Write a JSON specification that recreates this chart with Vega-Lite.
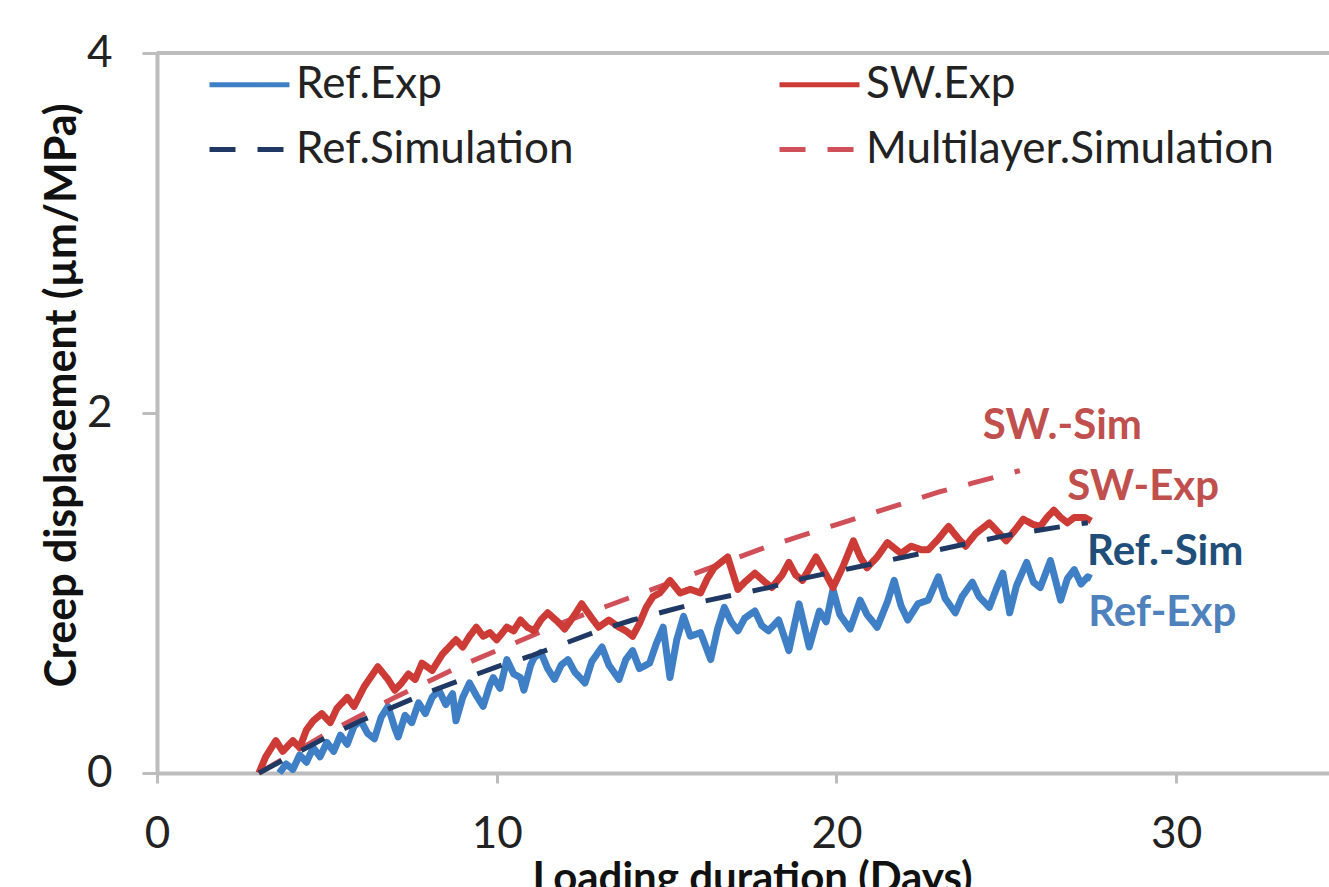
{
  "$schema": "https://vega.github.io/schema/vega-lite/v6.json",
  "width": 1172,
  "height": 720,
  "autosize": {"type": "none"},
  "padding": {"left": 157, "top": 53, "right": 0, "bottom": 114},
  "background": "white",
  "config": {
    "view": {"stroke": null},
    "font": "Lato",
    "axis": {"grid": false, "domainColor": "#bdbdbd", "domainWidth": 4, "tickColor": "#bdbdbd", "tickWidth": 3, "labelFont": "Lato", "labelColor": "#222222", "labelFontSize": 44, "labelFlush": false, "titleFont": "Lato", "titleColor": "#111111", "titleFontWeight": "bold"}
  },
  "datasets": {
    "lines": [
      {"s":"Ref.Exp","x":3.6,"y":0.0},{"s":"Ref.Exp","x":3.8,"y":0.05},{"s":"Ref.Exp","x":4.0,"y":0.02},{"s":"Ref.Exp","x":4.2,"y":0.10},{"s":"Ref.Exp","x":4.4,"y":0.06},{"s":"Ref.Exp","x":4.6,"y":0.14},{"s":"Ref.Exp","x":4.8,"y":0.09},{"s":"Ref.Exp","x":5.0,"y":0.17},{"s":"Ref.Exp","x":5.2,"y":0.12},{"s":"Ref.Exp","x":5.4,"y":0.21},{"s":"Ref.Exp","x":5.6,"y":0.16},{"s":"Ref.Exp","x":5.8,"y":0.26},{"s":"Ref.Exp","x":6.0,"y":0.29},{"s":"Ref.Exp","x":6.2,"y":0.22},{"s":"Ref.Exp","x":6.4,"y":0.19},{"s":"Ref.Exp","x":6.6,"y":0.31},{"s":"Ref.Exp","x":6.8,"y":0.37},{"s":"Ref.Exp","x":7.0,"y":0.25},{"s":"Ref.Exp","x":7.1,"y":0.20},{"s":"Ref.Exp","x":7.3,"y":0.32},{"s":"Ref.Exp","x":7.5,"y":0.28},{"s":"Ref.Exp","x":7.7,"y":0.39},{"s":"Ref.Exp","x":7.9,"y":0.33},{"s":"Ref.Exp","x":8.1,"y":0.42},{"s":"Ref.Exp","x":8.3,"y":0.46},{"s":"Ref.Exp","x":8.5,"y":0.38},{"s":"Ref.Exp","x":8.7,"y":0.44},{"s":"Ref.Exp","x":8.8,"y":0.29},{"s":"Ref.Exp","x":9.0,"y":0.42},{"s":"Ref.Exp","x":9.2,"y":0.50},{"s":"Ref.Exp","x":9.4,"y":0.43},{"s":"Ref.Exp","x":9.6,"y":0.37},{"s":"Ref.Exp","x":9.8,"y":0.49},{"s":"Ref.Exp","x":9.9,"y":0.53},{"s":"Ref.Exp","x":10.1,"y":0.47},{"s":"Ref.Exp","x":10.3,"y":0.63},{"s":"Ref.Exp","x":10.5,"y":0.55},{"s":"Ref.Exp","x":10.7,"y":0.53},{"s":"Ref.Exp","x":10.8,"y":0.46},{"s":"Ref.Exp","x":11.0,"y":0.60},{"s":"Ref.Exp","x":11.1,"y":0.64},{"s":"Ref.Exp","x":11.3,"y":0.67},{"s":"Ref.Exp","x":11.5,"y":0.58},{"s":"Ref.Exp","x":11.7,"y":0.52},{"s":"Ref.Exp","x":11.9,"y":0.60},{"s":"Ref.Exp","x":12.1,"y":0.63},{"s":"Ref.Exp","x":12.3,"y":0.56},{"s":"Ref.Exp","x":12.6,"y":0.50},{"s":"Ref.Exp","x":12.8,"y":0.62},{"s":"Ref.Exp","x":13.1,"y":0.70},{"s":"Ref.Exp","x":13.3,"y":0.60},{"s":"Ref.Exp","x":13.6,"y":0.52},{"s":"Ref.Exp","x":13.8,"y":0.63},{"s":"Ref.Exp","x":14.0,"y":0.68},{"s":"Ref.Exp","x":14.2,"y":0.58},{"s":"Ref.Exp","x":14.5,"y":0.61},{"s":"Ref.Exp","x":14.7,"y":0.72},{"s":"Ref.Exp","x":14.9,"y":0.81},{"s":"Ref.Exp","x":15.1,"y":0.53},{"s":"Ref.Exp","x":15.3,"y":0.74},{"s":"Ref.Exp","x":15.5,"y":0.87},{"s":"Ref.Exp","x":15.7,"y":0.76},{"s":"Ref.Exp","x":16.0,"y":0.78},{"s":"Ref.Exp","x":16.3,"y":0.63},{"s":"Ref.Exp","x":16.5,"y":0.80},{"s":"Ref.Exp","x":16.7,"y":0.92},{"s":"Ref.Exp","x":16.9,"y":0.84},{"s":"Ref.Exp","x":17.1,"y":0.79},{"s":"Ref.Exp","x":17.3,"y":0.86},{"s":"Ref.Exp","x":17.6,"y":0.90},{"s":"Ref.Exp","x":17.8,"y":0.82},{"s":"Ref.Exp","x":18.0,"y":0.79},{"s":"Ref.Exp","x":18.3,"y":0.85},{"s":"Ref.Exp","x":18.6,"y":0.68},{"s":"Ref.Exp","x":18.9,"y":0.94},{"s":"Ref.Exp","x":19.2,"y":0.70},{"s":"Ref.Exp","x":19.5,"y":0.90},{"s":"Ref.Exp","x":19.7,"y":0.84},{"s":"Ref.Exp","x":19.9,"y":1.02},{"s":"Ref.Exp","x":20.1,"y":0.88},{"s":"Ref.Exp","x":20.4,"y":0.80},{"s":"Ref.Exp","x":20.7,"y":0.96},{"s":"Ref.Exp","x":20.9,"y":0.88},{"s":"Ref.Exp","x":21.2,"y":0.81},{"s":"Ref.Exp","x":21.5,"y":0.95},{"s":"Ref.Exp","x":21.7,"y":1.07},{"s":"Ref.Exp","x":21.9,"y":0.93},{"s":"Ref.Exp","x":22.1,"y":0.85},{"s":"Ref.Exp","x":22.4,"y":0.94},{"s":"Ref.Exp","x":22.7,"y":0.96},{"s":"Ref.Exp","x":23.0,"y":1.09},{"s":"Ref.Exp","x":23.2,"y":0.97},{"s":"Ref.Exp","x":23.5,"y":0.89},{"s":"Ref.Exp","x":23.7,"y":0.98},{"s":"Ref.Exp","x":24.0,"y":1.06},{"s":"Ref.Exp","x":24.2,"y":0.98},{"s":"Ref.Exp","x":24.5,"y":0.92},{"s":"Ref.Exp","x":24.7,"y":1.02},{"s":"Ref.Exp","x":24.9,"y":1.11},{"s":"Ref.Exp","x":25.1,"y":0.89},{"s":"Ref.Exp","x":25.3,"y":1.04},{"s":"Ref.Exp","x":25.6,"y":1.17},{"s":"Ref.Exp","x":25.8,"y":1.06},{"s":"Ref.Exp","x":26.0,"y":1.03},{"s":"Ref.Exp","x":26.3,"y":1.18},{"s":"Ref.Exp","x":26.6,"y":0.96},{"s":"Ref.Exp","x":26.8,"y":1.08},{"s":"Ref.Exp","x":27.0,"y":1.13},{"s":"Ref.Exp","x":27.2,"y":1.05},{"s":"Ref.Exp","x":27.4,"y":1.09},{"s":"Ref.Exp","x":27.5,"y":1.08},
      {"s":"Multilayer.Simulation","x":3,"y":0},{"s":"Multilayer.Simulation","x":4,"y":0.11},{"s":"Multilayer.Simulation","x":5,"y":0.22},{"s":"Multilayer.Simulation","x":6,"y":0.32},{"s":"Multilayer.Simulation","x":7,"y":0.42},{"s":"Multilayer.Simulation","x":8,"y":0.51},{"s":"Multilayer.Simulation","x":9,"y":0.60},{"s":"Multilayer.Simulation","x":10,"y":0.68},{"s":"Multilayer.Simulation","x":11,"y":0.76},{"s":"Multilayer.Simulation","x":12,"y":0.84},{"s":"Multilayer.Simulation","x":13,"y":0.91},{"s":"Multilayer.Simulation","x":14,"y":0.98},{"s":"Multilayer.Simulation","x":15,"y":1.05},{"s":"Multilayer.Simulation","x":16,"y":1.12},{"s":"Multilayer.Simulation","x":17,"y":1.19},{"s":"Multilayer.Simulation","x":18,"y":1.26},{"s":"Multilayer.Simulation","x":19,"y":1.32},{"s":"Multilayer.Simulation","x":20,"y":1.38},{"s":"Multilayer.Simulation","x":21,"y":1.44},{"s":"Multilayer.Simulation","x":22,"y":1.50},{"s":"Multilayer.Simulation","x":23,"y":1.56},{"s":"Multilayer.Simulation","x":24,"y":1.61},{"s":"Multilayer.Simulation","x":25,"y":1.66},{"s":"Multilayer.Simulation","x":25.4,"y":1.68},
      {"s":"SW.Exp","x":3.0,"y":0.0},{"s":"SW.Exp","x":3.2,"y":0.09},{"s":"SW.Exp","x":3.5,"y":0.18},{"s":"SW.Exp","x":3.7,"y":0.12},{"s":"SW.Exp","x":4.0,"y":0.18},{"s":"SW.Exp","x":4.2,"y":0.14},{"s":"SW.Exp","x":4.4,"y":0.24},{"s":"SW.Exp","x":4.6,"y":0.29},{"s":"SW.Exp","x":4.85,"y":0.33},{"s":"SW.Exp","x":5.1,"y":0.28},{"s":"SW.Exp","x":5.3,"y":0.36},{"s":"SW.Exp","x":5.6,"y":0.42},{"s":"SW.Exp","x":5.8,"y":0.37},{"s":"SW.Exp","x":6.1,"y":0.48},{"s":"SW.Exp","x":6.5,"y":0.59},{"s":"SW.Exp","x":6.8,"y":0.52},{"s":"SW.Exp","x":7.0,"y":0.46},{"s":"SW.Exp","x":7.2,"y":0.50},{"s":"SW.Exp","x":7.4,"y":0.55},{"s":"SW.Exp","x":7.6,"y":0.52},{"s":"SW.Exp","x":7.8,"y":0.61},{"s":"SW.Exp","x":8.1,"y":0.57},{"s":"SW.Exp","x":8.4,"y":0.66},{"s":"SW.Exp","x":8.6,"y":0.70},{"s":"SW.Exp","x":8.8,"y":0.74},{"s":"SW.Exp","x":9.0,"y":0.70},{"s":"SW.Exp","x":9.2,"y":0.76},{"s":"SW.Exp","x":9.4,"y":0.81},{"s":"SW.Exp","x":9.6,"y":0.76},{"s":"SW.Exp","x":9.8,"y":0.78},{"s":"SW.Exp","x":10.0,"y":0.74},{"s":"SW.Exp","x":10.3,"y":0.81},{"s":"SW.Exp","x":10.5,"y":0.79},{"s":"SW.Exp","x":10.7,"y":0.85},{"s":"SW.Exp","x":10.9,"y":0.81},{"s":"SW.Exp","x":11.1,"y":0.79},{"s":"SW.Exp","x":11.3,"y":0.85},{"s":"SW.Exp","x":11.5,"y":0.89},{"s":"SW.Exp","x":11.8,"y":0.84},{"s":"SW.Exp","x":12.0,"y":0.80},{"s":"SW.Exp","x":12.3,"y":0.88},{"s":"SW.Exp","x":12.5,"y":0.94},{"s":"SW.Exp","x":12.8,"y":0.86},{"s":"SW.Exp","x":13.0,"y":0.81},{"s":"SW.Exp","x":13.3,"y":0.85},{"s":"SW.Exp","x":13.6,"y":0.81},{"s":"SW.Exp","x":13.8,"y":0.79},{"s":"SW.Exp","x":14.0,"y":0.76},{"s":"SW.Exp","x":14.2,"y":0.83},{"s":"SW.Exp","x":14.4,"y":0.92},{"s":"SW.Exp","x":14.6,"y":0.98},{"s":"SW.Exp","x":14.8,"y":1.00},{"s":"SW.Exp","x":15.1,"y":1.07},{"s":"SW.Exp","x":15.4,"y":1.00},{"s":"SW.Exp","x":15.7,"y":1.02},{"s":"SW.Exp","x":16.0,"y":1.00},{"s":"SW.Exp","x":16.2,"y":1.08},{"s":"SW.Exp","x":16.4,"y":1.14},{"s":"SW.Exp","x":16.8,"y":1.20},{"s":"SW.Exp","x":17.1,"y":1.02},{"s":"SW.Exp","x":17.3,"y":1.06},{"s":"SW.Exp","x":17.6,"y":1.11},{"s":"SW.Exp","x":17.9,"y":1.06},{"s":"SW.Exp","x":18.1,"y":1.03},{"s":"SW.Exp","x":18.4,"y":1.10},{"s":"SW.Exp","x":18.6,"y":1.17},{"s":"SW.Exp","x":18.8,"y":1.10},{"s":"SW.Exp","x":19.0,"y":1.07},{"s":"SW.Exp","x":19.4,"y":1.20},{"s":"SW.Exp","x":19.7,"y":1.10},{"s":"SW.Exp","x":19.9,"y":1.03},{"s":"SW.Exp","x":20.2,"y":1.15},{"s":"SW.Exp","x":20.5,"y":1.29},{"s":"SW.Exp","x":20.7,"y":1.20},{"s":"SW.Exp","x":20.9,"y":1.14},{"s":"SW.Exp","x":21.2,"y":1.20},{"s":"SW.Exp","x":21.5,"y":1.28},{"s":"SW.Exp","x":21.7,"y":1.25},{"s":"SW.Exp","x":21.9,"y":1.22},{"s":"SW.Exp","x":22.2,"y":1.26},{"s":"SW.Exp","x":22.5,"y":1.24},{"s":"SW.Exp","x":22.7,"y":1.24},{"s":"SW.Exp","x":23.0,"y":1.30},{"s":"SW.Exp","x":23.3,"y":1.37},{"s":"SW.Exp","x":23.6,"y":1.30},{"s":"SW.Exp","x":23.8,"y":1.26},{"s":"SW.Exp","x":24.1,"y":1.33},{"s":"SW.Exp","x":24.5,"y":1.39},{"s":"SW.Exp","x":24.8,"y":1.33},{"s":"SW.Exp","x":25.0,"y":1.29},{"s":"SW.Exp","x":25.3,"y":1.36},{"s":"SW.Exp","x":25.5,"y":1.41},{"s":"SW.Exp","x":25.8,"y":1.38},{"s":"SW.Exp","x":26.0,"y":1.37},{"s":"SW.Exp","x":26.2,"y":1.42},{"s":"SW.Exp","x":26.4,"y":1.46},{"s":"SW.Exp","x":26.6,"y":1.42},{"s":"SW.Exp","x":26.8,"y":1.39},{"s":"SW.Exp","x":27.0,"y":1.42},{"s":"SW.Exp","x":27.3,"y":1.42},{"s":"SW.Exp","x":27.5,"y":1.40},
      {"s":"Ref.Simulation","x":3,"y":0},{"s":"Ref.Simulation","x":4,"y":0.10},{"s":"Ref.Simulation","x":5,"y":0.20},{"s":"Ref.Simulation","x":6,"y":0.29},{"s":"Ref.Simulation","x":7,"y":0.37},{"s":"Ref.Simulation","x":8,"y":0.45},{"s":"Ref.Simulation","x":9,"y":0.52},{"s":"Ref.Simulation","x":10,"y":0.59},{"s":"Ref.Simulation","x":11,"y":0.65},{"s":"Ref.Simulation","x":12,"y":0.72},{"s":"Ref.Simulation","x":13,"y":0.79},{"s":"Ref.Simulation","x":14,"y":0.85},{"s":"Ref.Simulation","x":15,"y":0.90},{"s":"Ref.Simulation","x":16,"y":0.95},{"s":"Ref.Simulation","x":17,"y":0.99},{"s":"Ref.Simulation","x":18,"y":1.03},{"s":"Ref.Simulation","x":19,"y":1.08},{"s":"Ref.Simulation","x":20,"y":1.12},{"s":"Ref.Simulation","x":21,"y":1.16},{"s":"Ref.Simulation","x":22,"y":1.20},{"s":"Ref.Simulation","x":23,"y":1.24},{"s":"Ref.Simulation","x":24,"y":1.28},{"s":"Ref.Simulation","x":25,"y":1.32},{"s":"Ref.Simulation","x":26,"y":1.35},{"s":"Ref.Simulation","x":27,"y":1.38},{"s":"Ref.Simulation","x":27.4,"y":1.39}
    ],
    "labels": [
      {"t":"SW.-Sim","x":26.65,"y":1.93,"c":"#c0504d"},
      {"t":"SW-Exp","x":29.03,"y":1.59,"c":"#c0504d"},
      {"t":"Ref.-Sim","x":29.68,"y":1.23,"c":"#1f4e79"},
      {"t":"Ref-Exp","x":29.59,"y":0.89,"c":"#4f81bd"}
    ]
  },
  "layer": [
    {
      "data": {"values": [{"v": 4}]},
      "mark": {"type": "rule", "color": "#bdbdbd", "strokeWidth": 4},
      "encoding": {"y": {"field": "v", "type": "quantitative", "scale": {"domain": [0, 4]}}}
    },
    {
      "data": {"name": "lines"},
      "encoding": {
        "x": {"field": "x", "type": "quantitative", "scale": {"domain": [0, 34.5], "nice": false, "zero": false},
              "axis": {"values": [0, 10, 20, 30], "format": "d", "tickSize": 10, "labelPadding": 29, "title": "Loading duration (Days)", "titleFontSize": 42, "titleX": 595, "titleY": 118, "titleBaseline": "alphabetic", "titleAlign": "center"}},
        "y": {"field": "y", "type": "quantitative", "scale": {"domain": [0, 4], "nice": false},
              "axis": {"values": [0, 2, 4], "format": "d", "tickSize": 15, "labelPadding": 30, "title": "Creep displacement (µm/MPa)", "titleFontSize": 43, "titleX": -95, "titleY": 342, "titleAlign": "center", "titleBaseline": "middle", "titleAngle": -90}},
        "color": {"field": "s", "type": "nominal", "title": null,
                  "scale": {"domain": ["Ref.Exp", "Ref.Simulation", "SW.Exp", "Multilayer.Simulation"], "range": ["#3f7fc6", "#1f3864", "#cc3b35", "#d0505a"]},
                  "legend": {"orient": "none", "legendX": 50, "legendY": -11, "columns": 2, "columnPadding": 195, "rowPadding": -32, "symbolType": "stroke", "symbolSize": 6400, "symbolStrokeWidth": 5, "labelFontSize": 44, "labelFont": "Lato", "labelColor": "#222222", "labelLimit": 0, "labelOffset": 4, "padding": 0}},
        "strokeDash": {"field": "s", "type": "nominal", "title": null,
                       "scale": {"domain": ["Ref.Exp", "Ref.Simulation", "SW.Exp", "Multilayer.Simulation"], "range": [[1, 0], [26, 22], [1, 0], [26, 22]]}}
      },
      "layer": [
        {"transform": [{"filter": "datum.s === 'Ref.Exp'"}], "mark": {"type": "line", "strokeJoin": "round", "strokeWidth": 7}},
        {"transform": [{"filter": "datum.s === 'Multilayer.Simulation'"}], "mark": {"type": "line", "strokeWidth": 5}},
        {"transform": [{"filter": "datum.s === 'SW.Exp'"}], "mark": {"type": "line", "strokeJoin": "round", "strokeWidth": 7}},
        {"transform": [{"filter": "datum.s === 'Ref.Simulation'"}], "mark": {"type": "line", "strokeWidth": 5}}
      ]
    },
    {
      "data": {"name": "labels"},
      "mark": {"type": "text", "font": "Lato", "fontWeight": "bold", "fontSize": 42, "align": "center", "baseline": "middle"},
      "encoding": {
        "x": {"field": "x", "type": "quantitative"},
        "y": {"field": "y", "type": "quantitative"},
        "text": {"field": "t"},
        "color": {"field": "c", "type": "nominal", "scale": null}
      }
    }
  ]
}
